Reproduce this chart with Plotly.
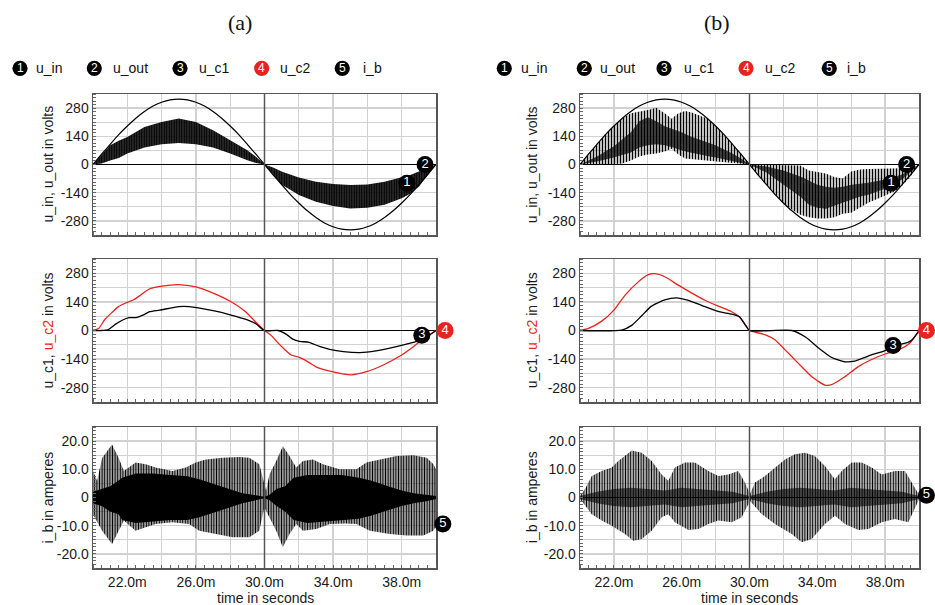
import plotly.graph_objects as go

W, H = 935, 605
RED = "#e8231f"
FONT = "Liberation Sans, Arial, sans-serif"

# ---------------- data ----------------
T_IN = [20.0, 20.5, 21.0, 21.5, 22.0, 22.5, 23.0, 23.5, 24.0, 24.5, 25.0, 25.5, 26.0, 26.5,
        27.0, 27.5, 28.0, 28.5, 29.0, 29.5, 30.0, 30.5, 31.0, 31.5, 32.0, 32.5, 33.0, 33.5,
        34.0, 34.5, 35.0, 35.5, 36.0, 36.5, 37.0, 37.5, 38.0, 38.5, 39.0, 39.5, 40.0]
U_IN = [0, 51, 100, 148, 191, 230, 263, 290, 309, 321, 325, 321, 309, 290, 263, 230, 191,
        148, 100, 51, 0, -51, -100, -148, -191, -230, -263, -290, -309, -321, -325, -321,
        -309, -290, -263, -230, -191, -148, -100, -51, 0]

# u_out (a): switching band envelopes
UOUT_A_T_POS = [20, 20.5, 21, 21.5, 22, 23, 24, 25, 26, 27, 28, 29, 29.5, 30]
UOUT_A_HI_POS = [0, 50, 95, 118, 137, 186, 211, 228, 211, 170, 120, 71, 38, 0]
UOUT_A_LO_POS = [0, 5, 20, 32, 55, 84, 100, 107, 100, 84, 54, 21, 8, 0]
UOUT_A_T_NEG = [30, 30.5, 31, 31.5, 32, 33, 34, 35, 36, 37, 38, 38.5, 39, 39.5, 40]
UOUT_A_HI_NEG = [0, -15, -35, -50, -65, -86, -97, -102, -99, -86, -65, -52, -35, -20, 0]
UOUT_A_LO_NEG = [0, -50, -100, -125, -152, -185, -206, -218, -215, -200, -168, -145, -110, -55, 0]

# u_out (b): outer envelopes and dense band
UOUT_B_T_POS = [20, 20.5, 21, 21.5, 22, 22.5, 23, 23.5, 24, 24.5, 25, 25.4, 25.8, 26.2, 26.6,
                27, 27.5, 28, 28.5, 29, 29.5, 30]
UOUT_B_HI_POS = [0, 51, 100, 148, 191, 230, 255, 262, 270, 282, 255, 227, 255, 265, 258,
                 245, 228, 191, 148, 100, 51, 0]
UOUT_B_LO_POS = [0, 0, 0, 0, 2, 5, 20, 40, 50, 55, 65, 78, 50, 30, 25, 22, 20, 15, 12, 8, 4, 0]
UOUT_B_T_NEG = [30, 30.5, 31, 31.5, 32, 32.5, 33, 33.5, 34, 34.5, 35, 35.5, 36, 36.5, 37,
                37.5, 38, 38.5, 39, 39.5, 40]
UOUT_B_HI_NEG = [0, -1, -1, -2, -2, -3, -5, -30, -38, -45, -62, -70, -35, -25, -22, -21,
                 -20, -19, -18, -12, 0]
UOUT_B_LO_NEG = [0, -51, -100, -148, -191, -225, -250, -262, -268, -268, -262, -245, -240,
                 -215, -190, -172, -155, -135, -105, -60, 0]
DARK_B_T_POS = [20, 21, 22, 23, 23.5, 24, 24.5, 25, 25.5, 26, 26.5, 27, 27.5, 28, 28.5, 29, 29.5, 30]
DARK_B_HI_POS = [0, 40, 90, 160, 215, 235, 215, 190, 175, 160, 140, 125, 110, 95, 75, 55, 30, 0]
DARK_B_LO_POS = [0, 15, 35, 60, 85, 95, 100, 95, 85, 70, 60, 50, 42, 35, 28, 18, 8, 0]
DARK_B_T_NEG = [30, 31, 32, 33, 33.5, 34, 34.5, 35, 35.5, 36, 36.5, 37, 38, 39, 40]
DARK_B_HI_NEG = [0, -10, -30, -60, -80, -100, -110, -115, -110, -100, -95, -90, -75, -50, 0]
DARK_B_LO_NEG = [0, -40, -100, -160, -200, -215, -220, -205, -190, -175, -160, -150, -120, -75, 0]

# capacitor voltages
UC1_A_T = [20, 20.5, 20.9, 21.3, 21.7, 22.1, 22.5, 22.9, 23.3, 23.9, 25, 25.6, 27, 28, 29,
           29.5, 30, 30.8, 31.3, 31.65, 32.05, 32.6, 33.2, 33.8, 34.6, 35.55, 36.5, 37.5,
           38.5, 39.2, 40]
UC1_A = [0, 0, 5, 30, 50, 63, 63, 75, 92, 100, 117, 117, 97, 77, 52, 33, 0, 0, -20, -42,
         -53, -58, -78, -92, -103, -108, -100, -83, -62, -45, 0]
UC2_A_T = [20, 20.33, 20.7, 21.1, 21.5, 22, 22.4, 22.8, 23.26, 24, 25, 26, 27, 28, 28.9,
           29.5, 30, 30.4, 30.8, 31.2, 31.55, 32.04, 32.6, 33, 34, 35.06, 35.9, 36.9, 37.9,
           38.7, 39.2, 40]
UC2_A = [0, 10, 55, 88, 118, 138, 152, 175, 202, 217, 225, 213, 183, 143, 92, 40, 0, -25,
         -62, -95, -120, -132, -157, -178, -203, -217, -203, -170, -125, -78, -45, 0]
UC1_B_T = [20, 22.46, 23.05, 23.64, 24.2, 25, 25.7, 26.4, 27.2, 28.2, 28.95, 29.4, 29.8,
           30, 32.5, 33.3, 34.1, 34.85, 35.6, 36.2, 37, 38, 38.8, 39.35, 39.6, 40]
UC1_B = [0, 2, 25, 72, 118, 150, 160, 147, 122, 92, 80, 67, 22, 0, 0, -32, -87, -132,
         -153, -150, -125, -98, -70, -58, -45, 0]
UC2_B_T = [20, 20.5, 21.3, 22, 22.65, 23.44, 24, 24.4, 25, 25.8, 26.6, 27.4, 28.2, 28.95,
           29.4, 29.8, 30, 30.9, 31.5, 32.1, 32.9, 33.7, 34.45, 34.85, 35.6, 36.4, 37.2,
           38, 38.8, 39.45, 40]
UC2_B = [0, 10, 47, 100, 172, 238, 272, 278, 263, 222, 183, 147, 118, 92, 67, 22, 0, -20,
         -45, -95, -162, -228, -267, -265, -228, -178, -142, -115, -95, -62, 0]

# i_b envelopes
IB_A_T_HI = [20.0, 20.24, 20.53, 21.11, 21.5, 21.8, 22.48, 23.07, 23.65, 24.63, 25.41, 25.99,
             26.58, 27.55, 28.53, 29.11, 29.7, 29.9, 30.09, 30.29, 30.68, 31.07, 31.46, 31.85,
             32.24, 32.82, 33.41, 34.38, 35.36, 35.94, 36.72, 37.7, 38.68, 39.46, 39.85, 40.0]
IB_A_HI = [9.4, 5.9, 14.0, 18.8, 14.0, 9.4, 12.4, 11.8, 10.6, 9.4, 10.6, 12.4, 13.5, 14.1,
           14.4, 14.1, 11.8, 7.0, 2.4, 8.2, 12.9, 18.2, 14.7, 10.6, 12.9, 13.5, 11.8, 10.0,
           10.0, 12.4, 13.5, 14.7, 15.0, 14.1, 11.8, 10.0]
IB_A_T_LO = [20.0, 20.53, 21.11, 21.5, 21.8, 22.48, 23.07, 23.65, 24.63, 25.6, 26.19, 27.16,
             28.14, 29.11, 29.7, 29.99, 30.29, 30.68, 31.07, 31.46, 31.85, 32.24, 33.02, 33.8,
             34.77, 35.36, 36.14, 37.31, 38.29, 39.26, 39.85, 40.0]
IB_A_LO = [-5.9, -11.8, -16.5, -11.8, -8.2, -11.8, -10.6, -9.4, -8.8, -9.4, -11.8, -12.9,
           -14.1, -14.1, -11.8, -3.5, -7.0, -11.8, -17.6, -12.9, -9.4, -11.8, -11.2, -9.4,
           -9.2, -9.4, -11.8, -12.9, -13.5, -13.5, -11.8, -10.0]
IB_A_IN_T = [20, 20.5, 21, 21.5, 21.7, 22.5, 23.5, 24.5, 25.5, 26.2, 27.2, 28, 28.7, 29.5,
             30, 30.3, 30.7, 31.2, 31.7, 32.5, 33.5, 34.5, 35.5, 36.2, 37.2, 38, 38.7, 39.5, 40]
IB_A_IN_HI = [2, 3, 4, 6, 7, 8.5, 8.5, 8, 7.5, 6.5, 4.5, 3, 1.5, 0.8, 0.3, 1, 3, 4, 7, 8, 8,
              8, 7, 6, 4, 2.5, 1.5, 1, 0.5]
IB_A_IN_LO = [-2, -3, -5, -6, -8, -9, -8.5, -8, -8, -7, -5, -3.5, -2, -1, -0.3, -1, -3, -5,
              -8, -9, -8.5, -8, -7.5, -6.5, -4.5, -3, -2, -1.2, -0.5]

IB_B_T_HI = [20.0, 20.1, 20.39, 20.69, 21.28, 21.87, 22.26, 22.65, 23.05, 23.64, 24.23, 24.82,
             25.21, 25.6, 26.19, 26.78, 27.57, 28.16, 28.75, 29.34, 29.73, 30.03, 30.32, 30.91,
             31.5, 32.09, 32.68, 33.27, 33.86, 34.45, 35.04, 35.44, 36.03, 36.62, 37.21, 37.8,
             38.58, 39.17, 39.57, 39.96, 40.0]
IB_B_HI = [1.0, 1.2, 4.1, 7.6, 9.4, 10.6, 12.9, 14.7, 16.7, 15.9, 12.9, 8.2, 5.9, 10.6, 12.4,
           12.4, 9.4, 7.6, 8.2, 9.4, 5.3, 1.2, 5.3, 7.6, 10.6, 13.5, 15.3, 15.9, 14.7, 11.2,
           6.5, 9.4, 12.4, 12.4, 10.6, 8.2, 9.4, 9.4, 5.3, 1.2, 1.0]
IB_B_T_LO = [20.0, 20.1, 20.69, 21.28, 21.87, 22.65, 23.15, 23.64, 24.23, 24.82, 25.21, 25.6,
             26.39, 26.98, 27.57, 28.16, 28.95, 29.54, 30.03, 30.72, 31.5, 32.49, 33.08, 33.67,
             34.45, 35.04, 35.63, 36.42, 37.01, 37.8, 38.58, 39.37, 39.96, 40.0]
IB_B_LO = [-1.0, -1.2, -5.9, -8.2, -10.0, -12.9, -15.3, -14.7, -11.8, -7.0, -5.9, -8.8, -11.5,
           -11.2, -9.4, -8.2, -8.8, -7.0, -1.2, -5.9, -9.4, -12.9, -15.9, -14.7, -9.4, -6.5,
           -9.4, -11.5, -11.2, -8.8, -7.6, -8.8, -1.2, -1.0]
IB_B_IN_T = [20, 21, 22, 23, 24, 25, 26, 27, 28, 29, 30, 31, 32, 33, 34, 35, 36, 37, 38, 39, 40]
IB_B_IN_HI = [0.5, 2, 3, 3.5, 3, 2.5, 3.5, 3, 2.5, 2, 0.5, 2, 3, 3.5, 3, 2.5, 3.5, 3, 2.5, 2, 0.5]
IB_B_IN_LO = [-0.5, -2, -3, -3.5, -3, -2.5, -3.5, -3, -2.5, -2, -0.5, -2, -3, -3.5, -3, -2.5,
              -3.5, -3, -2.5, -2, -0.5]

# numbered trace labels (label, x, y) per subplot
LBL_TOP_A = (["1", "2"], [38.3, 39.36], [-93, 0])
LBL_TOP_B = (["1", "2"], [38.35, 39.27], [-93, 0])
LBL_MID_A = (["3", "4"], [39.17, 40.53], [-23, 0])
LBL_MID_B = (["3", "4"], [38.47, 40.44], [-73, 0])
LBL_BOT_A = (["5"], [40.4], [-9.4])
LBL_BOT_B = (["5"], [40.44], [0.8])

# ticks
X_TICKS = [20, 22, 24, 26, 28, 30, 32, 34, 36, 38, 40]
X_TEXT = ["", "22.0m", "", "26.0m", "", "30.0m", "", "34.0m", "", "38.0m", ""]
V_TICKS = [-280, -210, -140, -70, 0, 70, 140, 210, 280]
V_TEXT = ["-280", "", "-140", "", "0", "", "140", "", "280"]
I_TICKS = [-20, -15, -10, -5, 0, 5, 10, 15, 20]
I_TEXT = ["-20.0", "", "-10.0", "", "0", "", "10.0", "", "20.0"]

LEGEND_NUMS = ["1", "2", "3", "4", "5"]
LEGEND_NAMES = ["u_in", "u_out", "u_c1", "u_c2", "i_b"]
LEGEND_COLORS = ["black", "black", "black", RED, "black"]

# ---------------- geometry ----------------
XPIX = [(93, 436), (580, 919)]          # plot area left/right per column
XPIX_LBL = [(93, 470), (580, 935)]      # wider overlay area for end-of-trace labels
ROWS = [(94, 235), (259, 402), (427, 568)]
X_RANGE = [20, 40]
V_RANGE = [-350, 350]
I_RANGE = [-25, 25]

fig = go.Figure()


def band(xa, ya, t_hi, hi, t_lo, lo, size=None, solidity=None, solid=None):
    x = list(t_hi) + list(t_lo)[::-1]
    y = list(hi) + list(lo)[::-1]
    kw = dict(x=x, y=y, xaxis=xa, yaxis=ya, mode="lines", line=dict(width=0),
              fill="toself", hoverinfo="skip", showlegend=False)
    if solid:
        kw["fillcolor"] = solid
    else:
        kw["fillcolor"] = "rgba(0,0,0,0)"
        kw["fillpattern"] = dict(shape="|", size=size, solidity=solidity, fgcolor="black",
                                 bgcolor="rgba(0,0,0,0)", fillmode="replace")
    fig.add_trace(go.Scatter(**kw))


def line(xa, ya, t, v, color="black", width=1.2):
    fig.add_trace(go.Scatter(x=t, y=v, xaxis=xa, yaxis=ya, mode="lines",
                             line=dict(color=color, width=width, shape="spline", smoothing=0.6),
                             hoverinfo="skip", showlegend=False))


def labels(xa, ya, lbl):
    txt, xs, ys = lbl
    cols = [RED if t == "4" else "black" for t in txt]
    fig.add_trace(go.Scatter(x=xs, y=ys, xaxis=xa, yaxis=ya, mode="markers+text", text=txt,
                             textposition="middle center",
                             textfont=dict(color="white", size=13, family=FONT),
                             marker=dict(size=17, color=cols, line=dict(width=0)),
                             cliponaxis=False, hoverinfo="skip", showlegend=False))


# top row
band("x", "y", UOUT_A_T_POS, UOUT_A_HI_POS, UOUT_A_T_POS, UOUT_A_LO_POS, 2.5, 0.9)
band("x", "y", UOUT_A_T_NEG, UOUT_A_HI_NEG, UOUT_A_T_NEG, UOUT_A_LO_NEG, 2.5, 0.9)
line("x", "y", T_IN, U_IN)

band("x2", "y2", UOUT_B_T_POS, UOUT_B_HI_POS, UOUT_B_T_POS, UOUT_B_LO_POS, 3, 0.5)
band("x2", "y2", UOUT_B_T_NEG, UOUT_B_HI_NEG, UOUT_B_T_NEG, UOUT_B_LO_NEG, 3, 0.5)
band("x2", "y2", DARK_B_T_POS, DARK_B_HI_POS, DARK_B_T_POS, DARK_B_LO_POS, 3, 0.8)
band("x2", "y2", DARK_B_T_NEG, DARK_B_HI_NEG, DARK_B_T_NEG, DARK_B_LO_NEG, 3, 0.8)
line("x2", "y2", T_IN, U_IN)

# middle row
line("x3", "y3", UC2_A_T, UC2_A, RED, 1.3)
line("x3", "y3", UC1_A_T, UC1_A, "black", 1.3)
line("x4", "y4", UC2_B_T, UC2_B, RED, 1.3)
line("x4", "y4", UC1_B_T, UC1_B, "black", 1.3)

# bottom row
band("x5", "y5", IB_A_T_HI, IB_A_HI, IB_A_T_LO, IB_A_LO, 2.6, 0.6)
band("x5", "y5", IB_A_IN_T, IB_A_IN_HI, IB_A_IN_T, IB_A_IN_LO, solid="black")
band("x6", "y6", IB_B_T_HI, IB_B_HI, IB_B_T_LO, IB_B_LO, 2.6, 0.55)
band("x6", "y6", IB_B_IN_T, IB_B_IN_HI, IB_B_IN_T, IB_B_IN_LO, solid="rgba(0,0,0,0.6)")

# end-of-trace numbered labels on hidden, wider axes (x7 left column, x8 right column;
# y7..y12 duplicate the six y axes without any grid)
labels("x7", "y7", LBL_TOP_A)
labels("x8", "y8", LBL_TOP_B)
labels("x7", "y9", LBL_MID_A)
labels("x8", "y10", LBL_MID_B)
labels("x7", "y11", LBL_BOT_A)
labels("x8", "y12", LBL_BOT_B)

# ---------------- layout ----------------


def ydom(r):
    top, bot = ROWS[r]
    return [1 - bot / H, 1 - top / H]


axis_common = dict(showline=True, mirror=True, linecolor="#555555", linewidth=1.5,
                   showgrid=True, gridcolor="#d2d2d2", gridwidth=1.3, ticks="",
                   tickfont=dict(family=FONT, size=14, color="#1a1a1a"),
                   automargin=False, fixedrange=True)

layout = dict(width=W, height=H, margin=dict(l=0, r=0, t=0, b=0), autosize=False,
              paper_bgcolor="white", plot_bgcolor="rgba(0,0,0,0)", template="none",
              showlegend=False, font=dict(family=FONT, size=14, color="#1a1a1a"))

for i in range(6):
    r, c = i // 2, i % 2
    sfx = "" if i == 0 else str(i + 1)
    x0, x1 = XPIX[c]
    layout["xaxis" + sfx] = dict(axis_common, domain=[x0 / W, x1 / W], range=X_RANGE,
                                 anchor="y" + sfx, tickmode="array", tickvals=X_TICKS,
                                 ticktext=X_TEXT, showticklabels=(r == 2), zeroline=False,
                                 ticklabelstandoff=1,
                                 minor=dict(tickmode="linear", tick0=20, dtick=0.5,
                                            ticks="inside", ticklen=3, tickcolor="#666666",
                                            showgrid=False))
    if r < 2:
        yt, ytx, yr, ym = V_TICKS, V_TEXT, V_RANGE, 17.5
    else:
        yt, ytx, yr, ym = I_TICKS, I_TEXT, I_RANGE, 1.25
    layout["yaxis" + sfx] = dict(axis_common, domain=ydom(r), range=yr, anchor="x" + sfx,
                                 tickmode="array", tickvals=yt, ticktext=ytx,
                                 zeroline=True, zerolinecolor="black", zerolinewidth=1,
                                 ticklabelstandoff=0,
                                 minor=dict(tickmode="linear", tick0=0, dtick=ym,
                                            ticks="inside", ticklen=3, tickcolor="#666666",
                                            showgrid=False))
    # hidden twin y axis for the label layer
    layout["yaxis%d" % (i + 7)] = dict(domain=ydom(r), range=yr, visible=False,
                                       fixedrange=True, showgrid=False, zeroline=False,
                                       anchor="x7" if c == 0 else "x8")

# hidden label x axes: same scale as the plot axes, but extended to the right
for name, c in (("xaxis7", 0), ("xaxis8", 1)):
    x0, x1 = XPIX[c]
    lx0, lx1 = XPIX_LBL[c]
    per_px = (X_RANGE[1] - X_RANGE[0]) / (x1 - x0)
    layout[name] = dict(domain=[lx0 / W, lx1 / W],
                        range=[X_RANGE[0], X_RANGE[0] + (lx1 - lx0) * per_px],
                        visible=False, fixedrange=True, showgrid=False, zeroline=False,
                        anchor="y7" if c == 0 else "y8")

shapes = []
for i in range(6):
    sfx = "" if i == 0 else str(i + 1)
    shapes.append(dict(type="line", xref="x" + sfx, yref="y" + sfx + " domain", x0=30, x1=30,
                       y0=0, y1=1, line=dict(color="#555555", width=1.5), layer="above"))

annotations = []
LEG_CX = [[20, 94.3, 180, 261.7, 342.3], [504.3, 584.3, 664, 746, 829.3]]
LEG_TX = [[34, 110.5, 197, 278, 361], [519, 598, 682, 763, 845]]
LEG_CY = 68.3
R = 7.6
for col in range(2):
    for k in range(5):
        cx = LEG_CX[col][k]
        shapes.append(dict(type="circle", xref="paper", yref="paper",
                           x0=(cx - R) / W, x1=(cx + R) / W,
                           y0=1 - (LEG_CY + R) / H, y1=1 - (LEG_CY - R) / H,
                           fillcolor=LEGEND_COLORS[k], line=dict(width=0), layer="above"))
        annotations.append(dict(text=LEGEND_NUMS[k], x=cx / W, y=1 - LEG_CY / H, xref="paper",
                                yref="paper", showarrow=False, xanchor="center",
                                yanchor="middle", font=dict(color="white", size=12, family=FONT)))
        annotations.append(dict(text=LEGEND_NAMES[k], x=LEG_TX[col][k] / W, y=1 - LEG_CY / H,
                                xref="paper", yref="paper", showarrow=False, xanchor="left",
                                yanchor="middle", font=dict(color="#111111", size=14, family=FONT)))

# panel titles
for txt, cx in [("(a)", 240), ("(b)", 716.7)]:
    annotations.append(dict(text=txt, x=cx / W, y=1 - 23 / H, xref="paper", yref="paper",
                            showarrow=False, xanchor="center", yanchor="middle",
                            font=dict(family="Liberation Serif, Times New Roman, serif",
                                      size=22, color="#111111")))

# axis titles
YTITLES = ["u_in, u_out in volts",
           'u_c1, <span style="color:%s">u_c2</span> in volts' % RED,
           "i_b in amperes"]
YCENT = [164.5, 330.5, 497.5]
for r in range(3):
    for cx in (47, 531.7):
        annotations.append(dict(text=YTITLES[r], x=cx / W, y=1 - YCENT[r] / H, xref="paper",
                                yref="paper", showarrow=False, textangle=-90,
                                xanchor="center", yanchor="middle",
                                font=dict(family=FONT, size=14, color="#1a1a1a")))
for cx in (265, 749.5):
    annotations.append(dict(text="time in seconds", x=cx / W, y=1 - 598 / H, xref="paper",
                            yref="paper", showarrow=False, xanchor="center", yanchor="middle",
                            font=dict(family=FONT, size=14, color="#1a1a1a")))

layout["shapes"] = shapes
layout["annotations"] = annotations
fig.update_layout(**layout)

fig.write_html("out.html", config={"displayModeBar": False, "staticPlot": True},
               post_script="document.body.style.margin='0px';document.body.style.padding='0px';")
